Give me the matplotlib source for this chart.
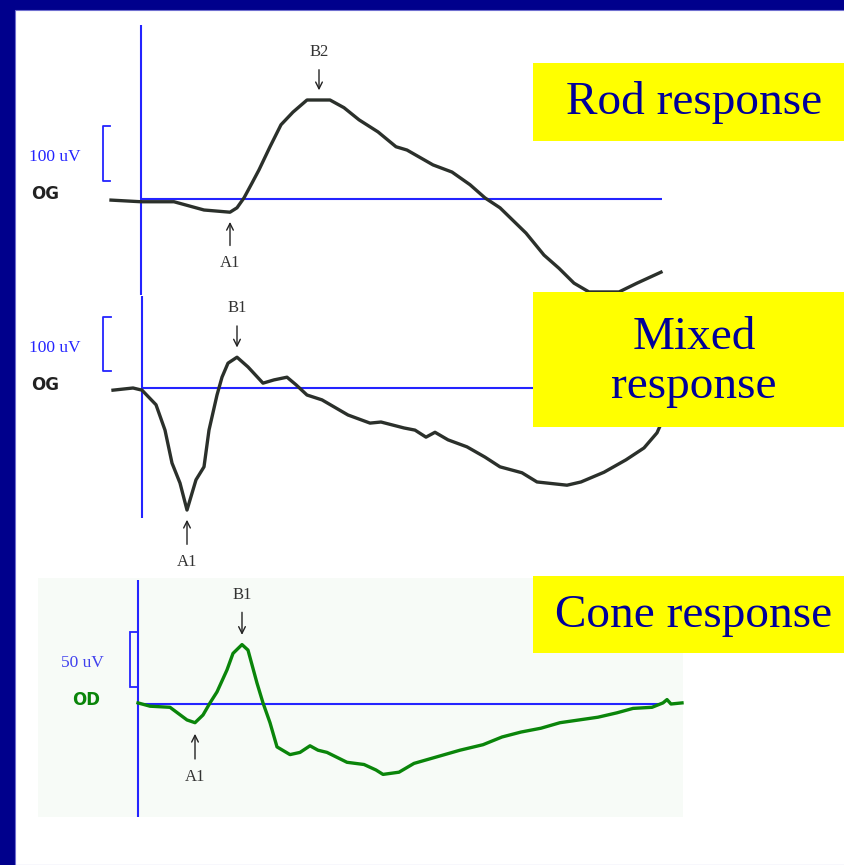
import numpy as np
import matplotlib
matplotlib.use("Agg")
import matplotlib.pyplot as plt
from matplotlib.patches import Rectangle

# Canvas size in pixels
W, H = 845, 865
MS_PER_PX = 0.5  # horizontal time scale shared by the three sweeps

# Rod response (ms, uV)
rod_t = [-15, 0, 7.5, 16.5, 31.5, 44.5, 48, 51.5, 55.5, 59, 64.5, 70, 76, 83, 94.5,
         101.5, 109, 118.5, 127.5, 133, 146, 155.5, 164.5, 172, 179.5, 192.5, 201.5,
         209, 216.5, 224, 239, 248, 260]
rod_v = [-2, -5, -5, -5, -20, -24, -16, 2, 29, 53, 95, 135, 158, 180, 180,
         166, 144, 122, 95, 89, 62, 49, 26, 2, -16, -62, -102,
         -126, -153, -169, -169, -153, -133]

# Mixed response (ms, uV)
mix_t = [-14.5, -4.5, 0, 7, 11.5, 15, 19, 22.5, 27, 31, 33.5, 37.5, 40, 43, 47.5, 53,
         60.5, 66, 72.5, 77, 82.5, 90, 103, 114, 119.5, 131, 136.5, 142, 146.5, 153,
         162.5, 171.5, 179, 190, 197.5, 212.5, 219.5, 231, 242, 251, 257.5, 261.5]
mix_v = [-4, 0, -4, -31, -78, -139, -176, -226, -170, -146, -78, -13, 20, 46, 57, 39,
         9, 15, 20, 6, -13, -22, -50, -65, -63, -74, -78, -91, -82, -96,
         -109, -128, -146, -157, -174, -180, -174, -156, -133, -111, -83, -50]

# Cone response (ms, uV)
cone_t = [0, 6, 16, 24.5, 28.5, 32.5, 36, 39.5, 44.5, 47.5, 52, 55, 59.5, 62.5, 66,
          69.5, 76, 81, 86, 90, 94.5, 104.5, 113, 119, 122.5, 130.5, 138, 149.5, 161,
          172.5, 182, 191.5, 201.5, 211, 220.5, 230, 239.5, 247.5, 257, 262.5, 264.5,
          266.5, 272]
cone_v = [1, -2, -3, -14.5, -17, -10, 1, 11, 31, 46, 54, 49, 19, 1, -17,
          -39, -46, -44, -38, -42, -44, -53, -55, -60, -64, -62, -54, -48, -42,
          -37, -30, -25.5, -22, -17, -14.5, -12, -8, -4, -3, 1, 4,
          0, 1]

NAVY = "#00008c"
TRACE = "#2b302b"
GREEN = "#0a850a"
BLUE = "#2424ff"
TXT = "#000099"


def fx(x):
    return x / W


def fy(y):
    return 1 - y / H


fig = plt.figure(figsize=(W / 100, H / 100), dpi=100)
fig.patch.set_facecolor(NAVY)
fig.patches.append(Rectangle((fx(15), 0), 1, fy(10), transform=fig.transFigure,
                             facecolor="white", edgecolor="#7070d0", lw=0.8, zorder=-3))
fig.patches.append(Rectangle((fx(38), fy(817)), fx(683 - 38), (817 - 578) / H,
                             transform=fig.transFigure, facecolor="#f7fbf7",
                             edgecolor="none", zorder=-2))


def panel(x0, x1, y0, y1, t0_px, base_px, uv_per_px):
    ax = fig.add_axes([fx(x0), fy(y1), (x1 - x0) / W, (y1 - y0) / H])
    ax.set_xlim((x0 - t0_px) * MS_PER_PX, (x1 - t0_px) * MS_PER_PX)
    ax.set_ylim((base_px - y1) * uv_per_px, (base_px - y0) * uv_per_px)
    ax.axis("off")
    ax.patch.set_alpha(0)
    return ax


def v_at(y, base_px, uv_per_px):
    return (base_px - y) * uv_per_px


def mark(ax, label, t, v, dy, gap=7):
    # dy: pixels from the trace point to the label centre (+ up, - down)
    ax.annotate(label, xy=(t, v), xytext=(0, dy), textcoords="offset pixels",
                ha="center", va="center", fontsize=12, color="#333333",
                family="Liberation Serif",
                arrowprops=dict(arrowstyle="->", lw=1.0, color="#222222",
                                shrinkA=5, shrinkB=gap))


# ---------- Rod ----------
s_rod = 100 / 55
ax1 = panel(20, 700, 15, 300, 141, 199, s_rod)
ax1.vlines(0, v_at(295, 199, s_rod), v_at(25, 199, s_rod), color=BLUE, lw=1.5)
ax1.hlines(0, 0, 260.5, color=BLUE, lw=1.5)
ax1.plot([-15.5, -19, -19, -15.5], [33, 33, 133, 133], color=BLUE, lw=1.3)
ax1.plot(rod_t, rod_v, color=TRACE, lw=2.4, solid_joinstyle="round")
i = int(np.argmax(rod_v))
mark(ax1, "B2", 89, rod_v[i], 48)
i = int(np.argmin(rod_v[:10]))
mark(ax1, "A1", rod_t[i], rod_v[i], -51)

# ---------- Mixed ----------
s_mix = 100 / 54
ax2 = panel(20, 700, 296, 572, 142, 388, s_mix)
ax2.vlines(0, v_at(518, 388, s_mix), v_at(296, 388, s_mix), color=BLUE, lw=1.5)
ax2.hlines(0, 0, 260, color=BLUE, lw=1.5)
ax2.plot([-15.5, -19.5, -19.5, -15.5], [31.5, 31.5, 131.5, 131.5], color=BLUE, lw=1.3)
ax2.plot(mix_t, mix_v, color=TRACE, lw=2.4, solid_joinstyle="round")
i = int(np.argmax(mix_v[:20]))
mark(ax2, "B1", mix_t[i], mix_v[i], 49)
i = int(np.argmin(mix_v[:20]))
mark(ax2, "A1", mix_t[i], mix_v[i], -52)

# ---------- Cone ----------
s_cone = 50 / 55
ax3 = panel(20, 700, 575, 822, 138, 704, s_cone)
ax3.vlines(0, v_at(817, 704, s_cone), v_at(580, 704, s_cone), color=BLUE, lw=1.5)
ax3.hlines(0, 0, 261, color=BLUE, lw=1.5)
ax3.add_patch(Rectangle((-4, 15.5), 4, 50, facecolor="none", edgecolor=BLUE, lw=1.3))
ax3.plot(cone_t, cone_v, color=GREEN, lw=2.4, solid_joinstyle="round")
i = int(np.argmax(cone_v[:20]))
mark(ax3, "B1", cone_t[i], cone_v[i], 50)
i = int(np.argmin(cone_v[:12]))
mark(ax3, "A1", cone_t[i], cone_v[i], -54, gap=8)

# ---------- left-side labels ----------
for y, lab in [(157, "100 uV"), (348, "100 uV")]:
    fig.text(fx(29), fy(y), lab, color=BLUE, fontsize=12.5, family="Liberation Serif",
             ha="left", va="center")
for y in (194, 385):
    fig.text(fx(31), fy(y), "OG", color="#222222", fontsize=12, fontweight="bold",
             family="DejaVu Sans", ha="left", va="center")
fig.text(fx(61), fy(663), "50 uV", color="#4040ee", fontsize=12.5, family="Liberation Serif",
         ha="left", va="center")
fig.text(fx(72), fy(700), "OD", color=GREEN, fontsize=12, fontweight="bold",
         family="DejaVu Sans", ha="left", va="center")

# ---------- yellow captions ----------
for (y0, y1, yc, cap) in [(63, 141, 103, "Rod response"),
                          (292, 427, 362, "Mixed\nresponse"),
                          (576, 653, 616, "Cone response")]:
    fig.patches.append(Rectangle((fx(533), fy(y1)), 1, (y1 - y0) / H,
                                 transform=fig.transFigure, facecolor="#ffff00",
                                 edgecolor="none", zorder=5))
    fig.text(fx(694), fy(yc), cap, color=TXT, fontsize=34, family="Liberation Serif",
             ha="center", va="center", linespacing=1.2, zorder=6)

fig.savefig("out.png", dpi=100, facecolor=fig.get_facecolor())
